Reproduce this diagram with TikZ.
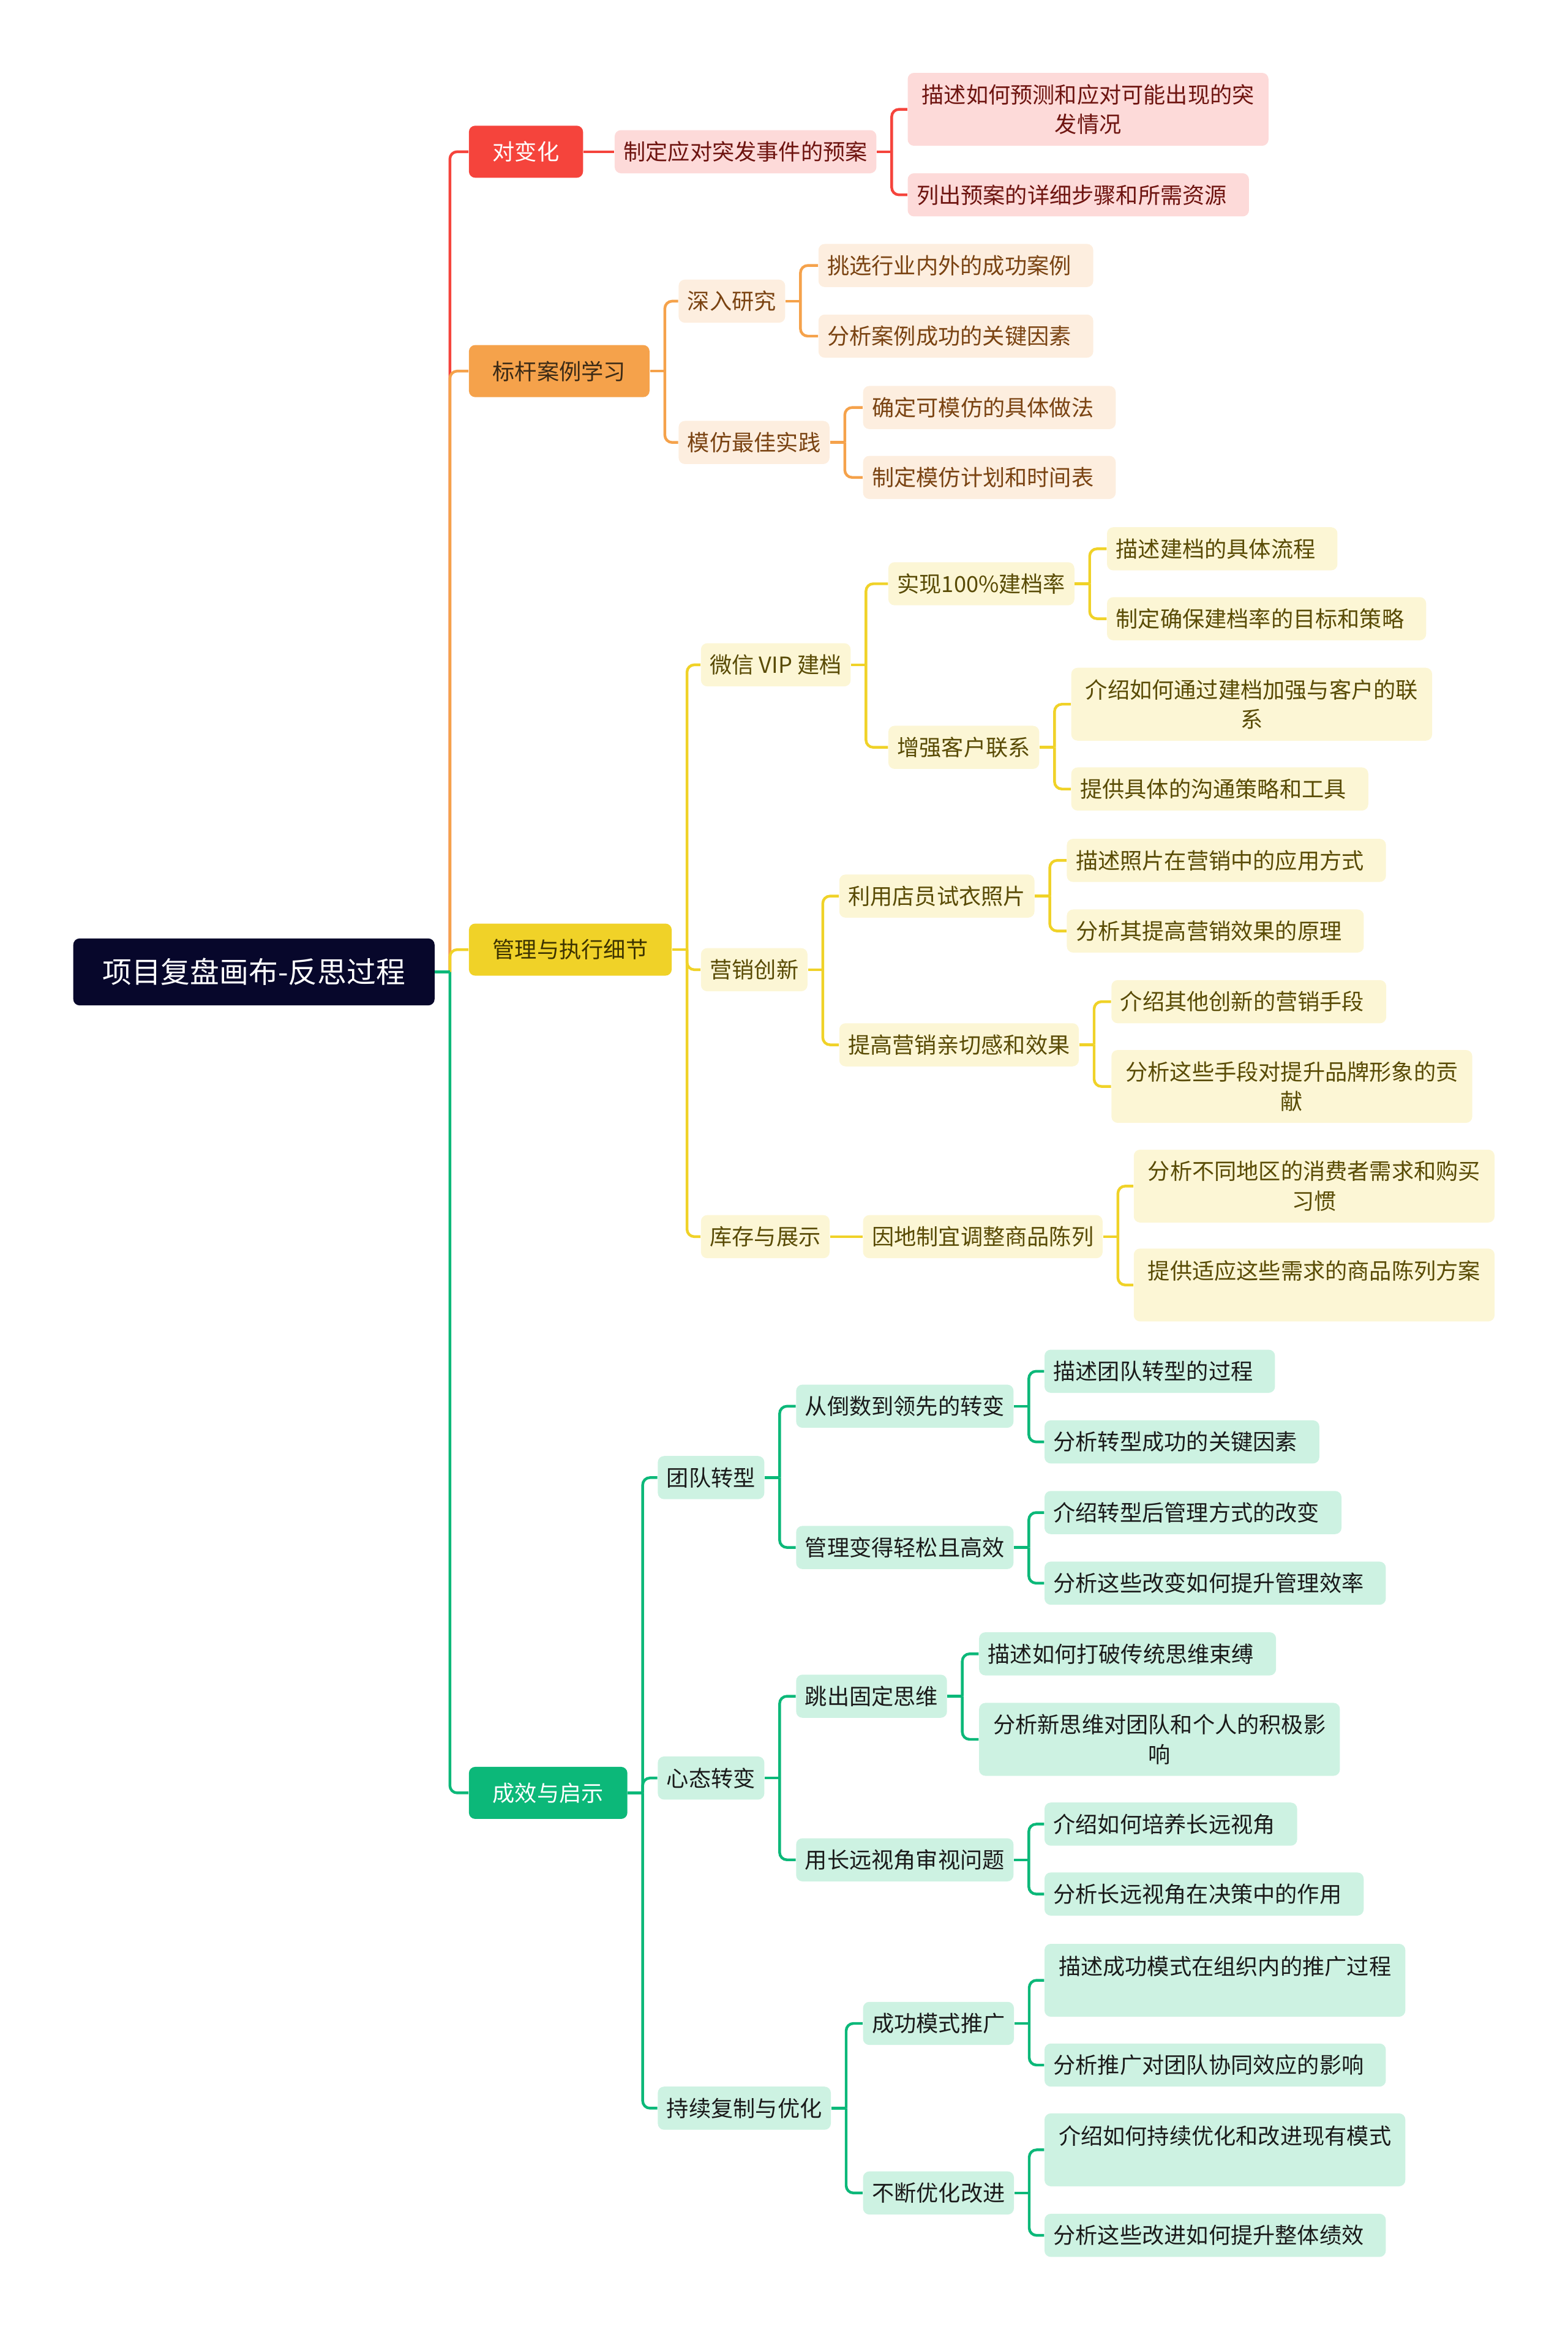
\documentclass[tikz,border=0pt]{standalone}
\usepackage{fontspec}
\setmainfont{Noto Sans CJK SC}
\usetikzlibrary{backgrounds}

\definecolor{rootfill}{HTML}{07072B}
\definecolor{redmain}{HTML}{F5443C}
\definecolor{redsoft}{HTML}{FDDAD9}
\definecolor{redink}{HTML}{6E1410}
\definecolor{orangemain}{HTML}{F5A24B}
\definecolor{orangesoft}{HTML}{FDEEDF}
\definecolor{orangeink}{HTML}{7A4312}
\definecolor{orangedark}{HTML}{3B2A16}
\definecolor{yellowmain}{HTML}{F0D228}
\definecolor{yellowsoft}{HTML}{FCF6D5}
\definecolor{yellowink}{HTML}{594B05}
\definecolor{yellowdark}{HTML}{3D3300}
\definecolor{greenmain}{HTML}{0CB879}
\definecolor{greensoft}{HTML}{CDF2E2}
\definecolor{greenink}{HTML}{1A1A1A}

\newcommand{\itemfont}{\fontsize{10.6}{14.2}\selectfont}

\tikzset{
  rootnode/.style={
    rectangle,
    rounded corners=3pt,
    fill=rootfill,
    text=white,
    font=\fontsize{14}{17}\selectfont,
    inner xsep=0.49cm,
    inner ysep=0pt,
    minimum height=1.125cm,
    anchor=west
  },
  topic/.style={
    rectangle,
    rounded corners=3pt,
    fill=#1main,
    inner xsep=0.4cm,
    inner ysep=0pt,
    minimum height=0.875cm,
    font=\itemfont,
    anchor=west
  },
  item/.style={
    rectangle,
    rounded corners=3pt,
    fill=#1soft,
    text=#1ink,
    inner xsep=0.15cm,
    inner ysep=0pt,
    minimum height=0.725cm,
    font=\itemfont,
    anchor=west
  },
  leaf/.style={
    item=#1,
    execute at end node={\hspace*{0.22cm}}
  },
  note/.style={
    item=#1,
    text width=160pt,
    align=center,
    inner xsep=0.22cm,
    minimum height=1.225cm
  },
  link/.style={
    draw=#1,
    line width=1.3pt,
    rounded corners=3.5pt
  }
}
\newcommand{\branchto}[3]{%
  \draw[link=#3] (#1.east) -- ++(10,0) coordinate (#1-bar);
  \foreach \kid in {#2}
    \draw[link=#3] (#1-bar) |- (\kid.west);
}

\begin{document}
\begin{tikzpicture}[x=0.025cm, y=-0.025cm]
  \useasboundingbox (0,0) rectangle (1054,1568);

  % Root and main topics
  \node[rootnode] (root) at (49,653.5) {项目复盘画布-反思过程};
  \node[topic=red, text=white] (change) at (315,102) {对变化};
  \node[topic=orange, text=orangedark] (bench) at (315,249.5) {标杆案例学习};
  \node[topic=yellow, text=yellowdark] (manage) at (315,638.5) {管理与执行细节};
  \node[topic=green, text=white] (result) at (315,1205.5) {成效与启示};

  % Branch: change
  \node[item=red] (plan) at (413,102) {制定应对突发事件的预案};
  \node[note=red] (plan-a) at (610,73.5) {描述如何预测和应对可能出现的突\\发情况};
  \node[leaf=red] (plan-b) at (610,131) {列出预案的详细步骤和所需资源};

  % Branch: benchmark
  \node[item=orange] (study) at (456,202.5) {深入研究};
  \node[leaf=orange] (study-a) at (550,178.5) {挑选行业内外的成功案例};
  \node[leaf=orange] (study-b) at (550,226) {分析案例成功的关键因素};
  \node[item=orange] (imitate) at (456,297.5) {模仿最佳实践};
  \node[leaf=orange] (imitate-a) at (580,274) {确定可模仿的具体做法};
  \node[leaf=orange] (imitate-b) at (580,321) {制定模仿计划和时间表};

  % Branch: management
  \node[item=yellow] (vip) at (471,447) {微信 VIP 建档};
  \node[item=yellow] (vip-rate) at (597,392.5) {实现100\%建档率};
  \node[leaf=yellow] (vip-rate-a) at (744,369) {描述建档的具体流程};
  \node[leaf=yellow] (vip-rate-b) at (744,416) {制定确保建档率的目标和策略};
  \node[item=yellow] (vip-link) at (597,502.5) {增强客户联系};
  \node[note=yellow] (vip-link-a) at (720,473.5) {介绍如何通过建档加强与客户的联\\系};
  \node[leaf=yellow] (vip-link-b) at (720,530.5) {提供具体的沟通策略和工具};
  \node[item=yellow] (promo) at (471,652) {营销创新};
  \node[item=yellow] (promo-photo) at (564,602.5) {利用店员试衣照片};
  \node[leaf=yellow] (promo-photo-a) at (717,578.5) {描述照片在营销中的应用方式};
  \node[leaf=yellow] (promo-photo-b) at (717,626) {分析其提高营销效果的原理};
  \node[item=yellow] (promo-warm) at (564,702.5) {提高营销亲切感和效果};
  \node[leaf=yellow] (promo-warm-a) at (747,673.5) {介绍其他创新的营销手段};
  \node[note=yellow] (promo-warm-b) at (747,730.5) {分析这些手段对提升品牌形象的贡\\献};
  \node[item=yellow] (stock) at (471,831.5) {库存与展示};
  \node[item=yellow] (stock-local) at (580,831.5) {因地制宜调整商品陈列};
  \node[note=yellow] (stock-local-a) at (762,797.5) {分析不同地区的消费者需求和购买\\习惯};
  \node[note=yellow] (stock-local-b) at (762,864) {提供适应这些需求的商品陈列方案\\\mbox{}};

  % Branch: results
  \node[item=green] (team) at (442,993.5) {团队转型};
  \node[item=green] (team-lead) at (535,945.5) {从倒数到领先的转变};
  \node[leaf=green] (team-lead-a) at (702,922) {描述团队转型的过程};
  \node[leaf=green] (team-lead-b) at (702,969.5) {分析转型成功的关键因素};
  \node[item=green] (team-easy) at (535,1040.5) {管理变得轻松且高效};
  \node[leaf=green] (team-easy-a) at (702,1017) {介绍转型后管理方式的改变};
  \node[leaf=green] (team-easy-b) at (702,1064.5) {分析这些改变如何提升管理效率};
  \node[item=green] (mind) at (442,1195.5) {心态转变};
  \node[item=green] (mind-break) at (535,1140.5) {跳出固定思维};
  \node[leaf=green] (mind-break-a) at (658,1112) {描述如何打破传统思维束缚};
  \node[note=green] (mind-break-b) at (658,1169.5) {分析新思维对团队和个人的积极影\\响};
  \node[item=green] (mind-long) at (535,1250.5) {用长远视角审视问题};
  \node[leaf=green] (mind-long-a) at (702,1226.5) {介绍如何培养长远视角};
  \node[leaf=green] (mind-long-b) at (702,1273.5) {分析长远视角在决策中的作用};
  \node[item=green] (scale) at (442,1417.5) {持续复制与优化};
  \node[item=green] (scale-spread) at (580,1360.5) {成功模式推广};
  \node[note=green] (scale-spread-a) at (702,1331.5) {描述成功模式在组织内的推广过程\\\mbox{}};
  \node[leaf=green] (scale-spread-b) at (702,1388.5) {分析推广对团队协同效应的影响};
  \node[item=green] (scale-tune) at (580,1474.5) {不断优化改进};
  \node[note=green] (scale-tune-a) at (702,1445.5) {介绍如何持续优化和改进现有模式\\\mbox{}};
  \node[leaf=green] (scale-tune-b) at (702,1503) {分析这些改进如何提升整体绩效};

  % Connectors
  \begin{scope}[on background layer]
    \coordinate (root-bar) at ([xshift=0.25cm]root.east);
    \foreach \kid/\col in {change/redmain, bench/orangemain, manage/yellowmain, result/greenmain}
      \draw[link=\col] (root-bar) |- (\kid.west);
    \draw[link=greenmain] (root.east) -- (root-bar);

    \draw[link=redmain] (change.east) -- (plan.west);
    \branchto{plan}{plan-a,plan-b}{redmain}

    \branchto{bench}{study,imitate}{orangemain}
    \branchto{study}{study-a,study-b}{orangemain}
    \branchto{imitate}{imitate-a,imitate-b}{orangemain}

    \branchto{manage}{vip,promo,stock}{yellowmain}
    \branchto{vip}{vip-rate,vip-link}{yellowmain}
    \branchto{vip-rate}{vip-rate-a,vip-rate-b}{yellowmain}
    \branchto{vip-link}{vip-link-a,vip-link-b}{yellowmain}
    \branchto{promo}{promo-photo,promo-warm}{yellowmain}
    \branchto{promo-photo}{promo-photo-a,promo-photo-b}{yellowmain}
    \branchto{promo-warm}{promo-warm-a,promo-warm-b}{yellowmain}
    \draw[link=yellowmain] (stock.east) -- (stock-local.west);
    \branchto{stock-local}{stock-local-a,stock-local-b}{yellowmain}

    \branchto{result}{team,mind,scale}{greenmain}
    \branchto{team}{team-lead,team-easy}{greenmain}
    \branchto{team-lead}{team-lead-a,team-lead-b}{greenmain}
    \branchto{team-easy}{team-easy-a,team-easy-b}{greenmain}
    \branchto{mind}{mind-break,mind-long}{greenmain}
    \branchto{mind-break}{mind-break-a,mind-break-b}{greenmain}
    \branchto{mind-long}{mind-long-a,mind-long-b}{greenmain}
    \branchto{scale}{scale-spread,scale-tune}{greenmain}
    \branchto{scale-spread}{scale-spread-a,scale-spread-b}{greenmain}
    \branchto{scale-tune}{scale-tune-a,scale-tune-b}{greenmain}
  \end{scope}
\end{tikzpicture}
\end{document}
